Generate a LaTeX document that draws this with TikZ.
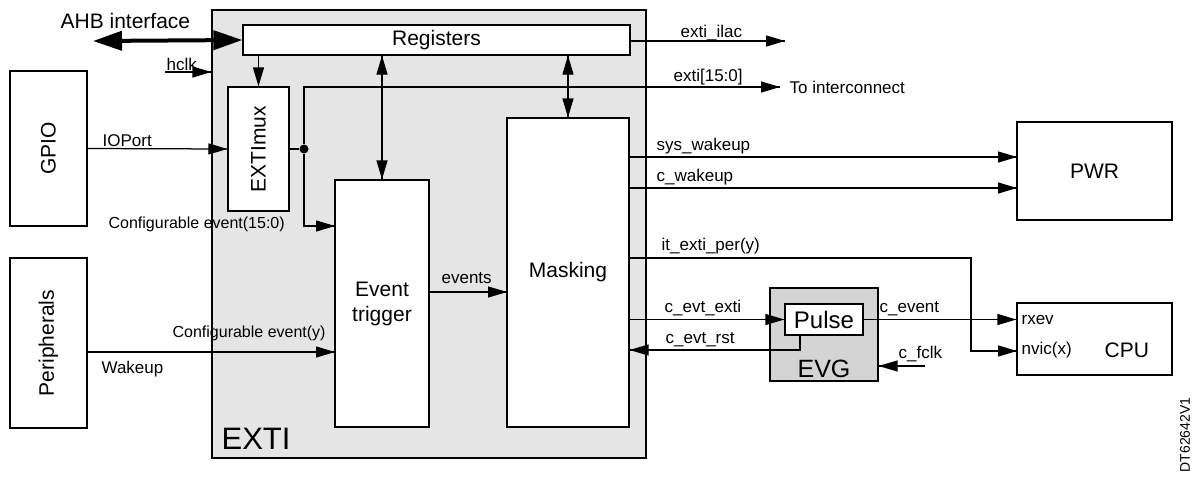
\documentclass[tikz,border=0pt]{standalone}
\usepackage{fontspec}
\setmainfont{Liberation Sans}
\usetikzlibrary{arrows.meta}
\usetikzlibrary{decorations.markings}
\usetikzlibrary{positioning}
\tikzset{->/.style = {decoration={markings,
                                  mark=at position 1 with {\arrow{Triangle[length=19pt,width=11pt]}}},
                      postaction={decorate}}}
\tikzset{<->/.style = {decoration={markings,
                                   mark=at position 0 with {\arrowreversed{Triangle[length=19pt,width=11pt]}},
                                   mark=at position 1 with {\arrow{Triangle[length=19pt,width=11pt]}}},
                       postaction={decorate}}}
\tikzset{bus/.style = {line width=4pt,
                       arrows={Triangle[length=29pt,width=19pt]-Triangle[length=29pt,width=19pt]}}}
\tikzset{block/.style = {draw, fill=white, inner sep=0, font=\fontsize{21}{25}\selectfont}}
\tikzset{big/.style = {inner sep=0, font=\fontsize{21}{25}\selectfont}}
\tikzset{sig/.style = {inner sep=0, anchor=base west, font=\fontsize{17}{20}\selectfont}}
\tikzset{cfg/.style = {inner sep=0, anchor=base west, font=\fontsize{16}{19}\selectfont}}
\tikzset{circ/.style = {fill, circle, inner sep = 0, minimum size = 9}}
\definecolor{exgray}{rgb}{0.9, 0.9, 0.9}
\definecolor{evgray}{rgb}{0.83, 0.83, 0.83}

\begin{document}
\begin{tikzpicture}[x=1pt, y=-1pt, line width=1.25pt]
  \useasboundingbox (0,0) rectangle (1197,480);

  % EXTI block with its inner parts
  \node [draw, fill=exgray, minimum width=434, minimum height=448] (exti) at (429,234) {};
  \node [inner sep=0, anchor=base west, font=\fontsize{31}{36}\selectfont] (extitext) at (221,449) {EXTI};
  \node [block, minimum width=387, minimum height=30] (reg) at (436.5,40) {Registers};
  \node [block, minimum width=61, minimum height=124] (mux) at (258.5,149) {};
  \node [big, rotate=90] (muxtext) at (mux) {EXTImux};
  \node [block, minimum width=94, minimum height=247, align=center] (trig) at (382,303.5) {Event\\trigger};
  \node [block, minimum width=122, minimum height=309] (mask) at (568,272.5) {Masking};

  % sources on the left
  \node [block, minimum width=77, minimum height=155] (gpio) at (48.5,148.5) {};
  \node [big, rotate=90] (gpiotext) at (gpio) {GPIO};
  \node [block, minimum width=77, minimum height=170] (peri) at (48.5,343) {};
  \node [big, rotate=90] (peritext) at (peri) {Peripherals};

  % targets on the right
  \node [block, minimum width=155, minimum height=98] (pwr) at (1094.5,171) {PWR};
  \node [block, minimum width=155, minimum height=72] (cpu) at (1094.5,339) {};
  \node [big, anchor=base west] (cputext) at (1104,357) {CPU};
  \node [sig] (rxev) at (1021,324) {rxev};
  \node [sig] (nvic) at (1021,354) {nvic(x)};

  % event generator
  \node [draw, fill=evgray, minimum width=108, minimum height=93] (evg) at (824,334.5) {};
  \node [block, minimum width=78, minimum height=31, font=\fontsize{24}{28}\selectfont] (pulse) at (824,319.5) {Pulse};
  \node [inner sep=0, anchor=base, font=\fontsize{25}{30}\selectfont] (evgtext) at (824,377) {EVG};

  % free ends and bends
  \coordinate (ahb) at (93,41);
  \coordinate (hclk) at (165,72);
  \coordinate (ilac) at (785,41);
  \coordinate (tointc) at (780,87);
  \coordinate (cfgin) at (335,226);
  \coordinate (wkin) at (335,352);
  \coordinate (evtin) at (507,292);
  \coordinate (syswk) at (1017,157);
  \coordinate (cwk) at (1017,188);
  \coordinate (itturn) at (971,258);
  \coordinate (nvicin) at (1017,351);
  \coordinate (rstturn) at (800,350);
  \coordinate (fclk) at (925,366);

  % bus and register paths
  \draw [bus] (ahb) -- (reg.west);
  \node [big, anchor=base west] (ahbtext) at (60,28) {AHB interface};
  \draw [->] (hclk) -- (exti.west |- hclk);
  \node [sig] (hclktext) at (166,70) {hclk};
  \draw [->] (mux.north |- reg.south) -- (mux.north);
  \draw [<->] (trig.north |- reg.south) -- (trig.north);
  \draw [<->] (mask.north |- reg.south) -- (mask.north);
  \draw [->] (reg.east |- ilac) -- (ilac);
  \node [sig] (ilactext) at (680,37) {exti\_ilac};

  % event inputs
  \draw [->] (gpio.east) -- (mux.west);
  \node [sig] (ioport) at (102,146) {IOPort};
  \node [circ] (split) at (304,149) {};
  \draw (mux.east) -- (split);
  \draw [->] (split) |- (tointc);
  \node [sig] (extitxt) at (673,81) {exti[15:0]};
  \node [inner sep=0, anchor=west, font=\fontsize{17}{20}\selectfont] (intc) at (789,87) {To interconnect};
  \draw [->] (split) |- (cfgin);
  \node [cfg] (cfgmux) at (108,228) {Configurable event(15:0)};
  \draw [->] (peri.east |- wkin) -- (wkin);
  \node [cfg] (cfgper) at (172,337) {Configurable event(y)};
  \node [sig] (wakeup) at (101,373) {Wakeup};
  \draw [->] (trig.east |- evtin) -- (evtin);
  \node [sig] (events) at (441,283) {events};

  % outputs of the masking
  \draw [->] (mask.east |- syswk) -- (syswk);
  \node [sig] (syswktext) at (656,150) {sys\_wakeup};
  \draw [->] (mask.east |- cwk) -- (cwk);
  \node [sig] (cwktext) at (656,181) {c\_wakeup};
  \draw [->] (mask.east |- itturn) -- (itturn) |- (nvicin);
  \node [sig] (ittext) at (661,250) {it\_exti\_per(y)};
  \draw [->] (mask.east |- pulse.west) -- (pulse.west);
  \node [sig] (evtexti) at (664,312) {c\_evt\_exti};
  \draw [->] (pulse.south -| rstturn) |- (mask.east |- rstturn);
  \node [sig] (evtrst) at (665,343) {c\_evt\_rst};
  \draw [->] (pulse.east) -- (cpu.west |- pulse.east);
  \node [sig] (cevent) at (879,312) {c\_event};
  \draw [->] (fclk) -- (evg.east |- fclk);
  \node [sig] (fclktext) at (898,358) {c\_fclk};

  \node [inner sep=0, rotate=90, font=\fontsize{14}{17}\selectfont] (docid) at (1185,435) {DT62642V1};
\end{tikzpicture}
\end{document}
